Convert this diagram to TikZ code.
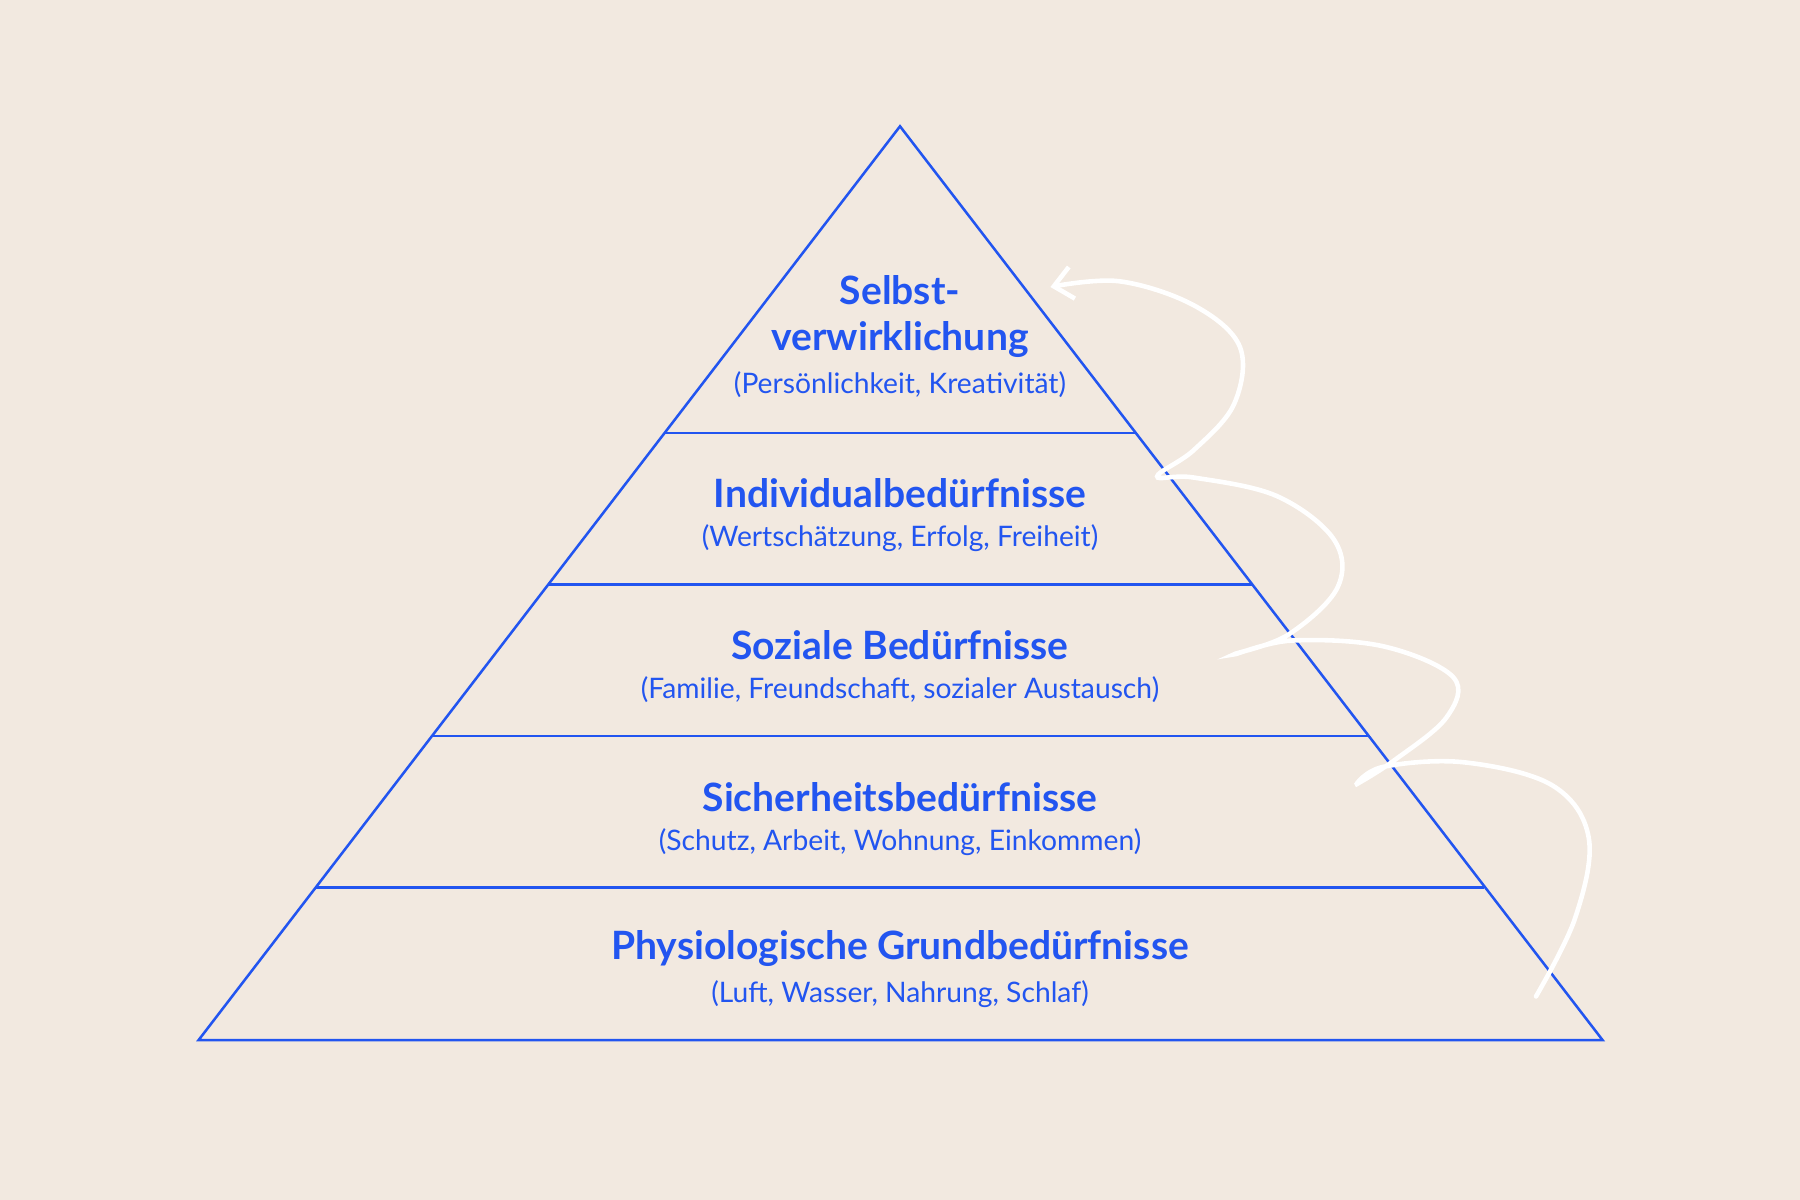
\documentclass[tikz,border=0pt]{standalone}
\usepackage{fontspec}
\setmainfont{Lato}
\usetikzlibrary{arrows.meta}
\definecolor{bg}{HTML}{F2E9E0}
\definecolor{pblue}{HTML}{2255F0}
\tikzset{
  title/.style={text=pblue,font=\fontsize{17}{20}\selectfont\bfseries,align=center},
  sub/.style={text=pblue,font=\fontsize{12.3}{14}\selectfont},
  lay/.style={draw=pblue,line width=1.1pt},
}
\begin{document}
\begin{tikzpicture}[x=0.5pt,y=-0.5pt]
\fill[bg] (0,0) rectangle (1568,1045);
\useasboundingbox (0,0) rectangle (1568,1045);
\coordinate (apex) at (784,110);
\coordinate (bl) at (173,906);
\coordinate (br) at (1396,906);
\draw[lay,line join=miter] (apex) -- (bl) -- (br) -- cycle;
\foreach \y/\n in {377/a,509/b,641/c,773/d}{
  \pgfmathsetmacro{\dx}{(\y-110)*0.76759}
  \coordinate (l\n) at (784-\dx,\y);
  \coordinate (r\n) at (784+\dx,\y);
  \draw[lay] (l\n) -- (r\n);
}
\node[title] (t1) at (784,276) {Selbst-\\verwirklichung};
\node[sub] (s1) at (784,335) {(Persönlichkeit, Kreativität)};
\node[title] (t2) at (784,430) {Individualbedürfnisse};
\node[sub] (s2) at (784,469) {(Wertschätzung, Erfolg, Freiheit)};
\node[title] (t3) at (784,562) {Soziale Bedürfnisse};
\node[sub] (s3) at (784,601) {(Familie, Freundschaft, sozialer Austausch)};
\node[title] (t4) at (784,694) {Sicherheitsbedürfnisse};
\node[sub] (s4) at (784,734) {(Schutz, Arbeit, Wohnung, Einkommen)};
\node[title] (t5) at (784,826) {Physiologische Grundbedürfnisse};
\node[sub] (s5) at (784,866) {(Luft, Wasser, Nahrung, Schlaf)};
\draw[white,line width=2pt,line cap=round,-{Straight Barb[length=8pt,width=14pt]}]
 plot[smooth,tension=0.6] coordinates {(1338,868) (1372,800) (1384,730) (1352,684) (1275,664) (1205,668) (1182,683) (1215,662) (1260,625) (1266,590) (1205,563) (1125,558) (1075,570) (1122,553) (1165,512) (1162,470) (1112,432) (1040,416) (1008,415) (1040,392) (1075,352) (1080,302) (1040,266) (975,245) (915,250)};
\end{tikzpicture}
\end{document}
